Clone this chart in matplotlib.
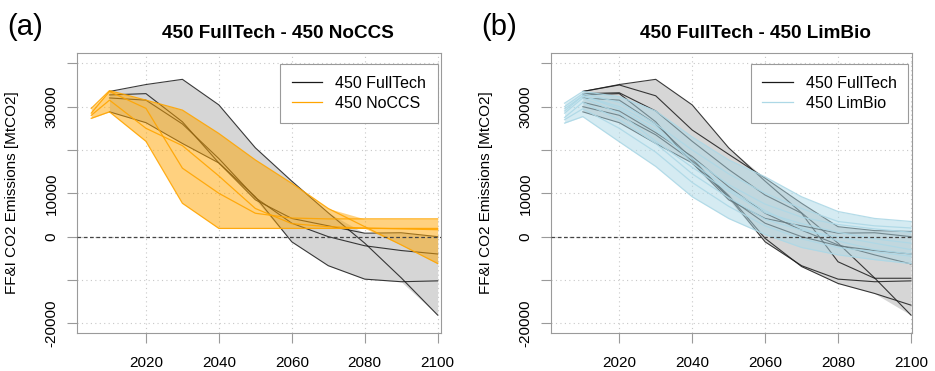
import numpy as np
import matplotlib
matplotlib.use('Agg')
import matplotlib.pyplot as plt

plt.rcParams['font.family'] = ['Liberation Sans', 'DejaVu Sans']

# years
yrs_full = [2010, 2020, 2030, 2040, 2050, 2060, 2070, 2080, 2090, 2100]
yrs_alt = [2005, 2010, 2020, 2030, 2040, 2050, 2060, 2070, 2080, 2090, 2100]

# 450 FullTech (MtCO2), panel a
full_a = [
    [33500, 35100, 36300, 30400, 20500, 12800, 5500, -1500, -9500, -18100],
    [32700, 33000, 26500, 17000, 8500, 4200, 2500, 800, 900, 0],
    [32000, 31500, 26000, 18000, 9000, 3100, 0, -2100, -3200, -4000],
    [28800, 26300, 21500, 17000, 9200, -1200, -6700, -9800, -10400, -10200],
]
# 450 NoCCS
noccs = [
    [28500, 33500, 29600, 15800, 10000, 5400, 4300, 4100, 4100, 4100, 4100],
    [27300, 28800, 22000, 7700, 1900, 1900, 1900, 1900, 1900, 1900, 1900],
    [29600, 33700, 31500, 29200, 23800, 17700, 12300, 6500, 2300, -1900, -6200],
    [28000, 31500, 25000, 21000, 14000, 6500, 3000, 2300, 2000, 1800, 1600],
]

# 450 FullTech, panel b
full_b = full_a + [
    [33500, 35000, 32500, 24600, 19000, 13500, 7700, 2300, 1400, 1200],
    [33000, 33200, 29000, 22000, 15500, 9600, 5400, -5800, -9600, -9600],
    [30000, 28000, 23500, 17500, 9500, -400, -6900, -10800, -13100, -15800],
    [31000, 29000, 24000, 18500, 11500, 5400, 1500, -1900, -4200, -6300],
]
# 450 LimBio
limbio = [
    [30800, 33500, 32300, 29000, 23000, 17700, 13800, 9200, 5800, 4200, 3500],
    [30000, 33000, 31000, 26000, 20000, 14500, 10000, 6500, 3500, 2500, 2000],
    [29000, 32500, 29500, 24500, 18000, 12000, 7500, 4500, 2800, 1800, 1000],
    [28500, 32000, 28500, 22000, 16000, 10500, 5500, 3000, 1000, -500, -1500],
    [27500, 31000, 27000, 21500, 14500, 9000, 4000, 1500, 0, -1500, -3000],
    [27000, 29500, 25000, 19500, 12500, 7000, 2500, -500, -2500, -3500, -4500],
    [26200, 27700, 21900, 16200, 9200, 4200, 500, -2500, -4200, -5300, -6200],
    [29500, 32500, 30000, 25500, 17000, 11000, 6000, 2000, -1000, -3000, -4000],
]

yticks = [-20000, -10000, 0, 10000, 20000, 30000, 40000]
ylabels = ['-20000', '', '0', '10000', '', '30000', '']
xticks = [2020, 2040, 2060, 2080, 2100]


def panel(ax, full, other, col, other_name, xlim):
    full = np.array(full)
    other = np.array(other)
    # grid
    for y in yticks:
        ax.axhline(y, color='#c8c8c8', lw=0.8, ls=(0, (1, 3)), zorder=0)
    for x in xticks:
        ax.axvline(x, color='#c8c8c8', lw=0.8, ls=(0, (1, 3)), zorder=0)
    ax.fill_between(yrs_full, full.min(axis=0), full.max(axis=0),
                    color='#d6d6d6', lw=0, zorder=1)
    for row in full:
        ax.plot(yrs_full, row, color='#1a1a1a', lw=0.8, alpha=0.85, zorder=2)
    ax.fill_between(yrs_alt, other.min(axis=0), other.max(axis=0),
                    color=col, alpha=0.5, lw=0, zorder=3)
    for row in other:
        ax.plot(yrs_alt, row, color=col, lw=0.9, alpha=0.9, zorder=4)
    ax.axhline(0, color='#444444', lw=0.9, ls=(0, (3, 2)), zorder=5)

    ax.set_xlim(xlim)
    ax.set_ylim(-22300, 42450)
    ax.set_xticks(xticks)
    ax.set_yticks(yticks)
    ax.set_yticklabels(ylabels, rotation=90, va='center')
    for s in ax.spines.values():
        s.set_color('#9a9a9a')
    ax.tick_params(axis='both', color='#9a9a9a', length=7, width=0.8,
                   labelsize=11)
    ax.tick_params(axis='y', pad=6)
    ax.tick_params(axis='x', pad=9)
    ax.set_ylabel('FF&I CO2 Emissions [MtCO2]', fontsize=11, labelpad=18.7)

    h1, = ax.plot([], [], color='#1a1a1a', lw=0.9)
    h2, = ax.plot([], [], color=col, lw=0.9)
    leg = ax.legend([h1, h2], ['450 FullTech', other_name], loc='upper right',
                    bbox_to_anchor=(0.991, 0.96), borderaxespad=0,
                    fontsize=11.5, fancybox=False, framealpha=1,
                    handlelength=1.9, handletextpad=0.8, labelspacing=0.3,
                    borderpad=0.75)
    leg.get_frame().set_edgecolor('#9a9a9a')
    leg.get_frame().set_linewidth(0.8)


fig = plt.figure(figsize=(9.35, 3.71), dpi=100)
ax1 = fig.add_axes([0.0820, 0.1016, 0.3896, 0.7564])
ax2 = fig.add_axes([0.5890, 0.1016, 0.3861, 0.7564])

panel(ax1, full_a, noccs, 'orange', '450 NoCCS', (2001.0, 2100.9))
panel(ax2, full_b, limbio, 'lightblue', '450 LimBio', (2001.2, 2100.2))

fig.text(278 / 935, 1 - 33 / 371, '450 FullTech - 450 NoCCS', ha='center',
         va='center', fontsize=13.6, fontweight='bold')
fig.text(755 / 935, 1 - 33 / 371, '450 FullTech - 450 LimBio', ha='center',
         va='center', fontsize=13.6, fontweight='bold')
fig.text(25 / 935, 1 - 27 / 371, '(a)', ha='center', va='center', fontsize=21)
fig.text(499 / 935, 1 - 27 / 371, '(b)', ha='center', va='center', fontsize=21)

plt.savefig('out.png', dpi=100)
